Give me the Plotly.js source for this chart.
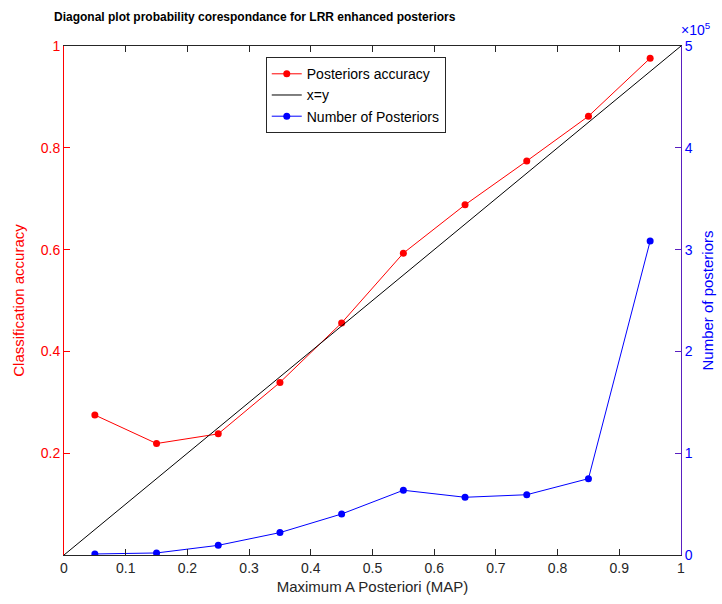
<!DOCTYPE html>
<html><head><meta charset="utf-8">
<script src="https://cdn.plot.ly/plotly-3.0.1.min.js"></script>
<style>html,body{margin:0;padding:0;background:#fff}</style>
</head><body>
<div id="chart" style="width:722px;height:604px"></div>
<script>
const mapBins = [0.05,0.15,0.25,0.35,0.45,0.55,0.65,0.75,0.85,0.95];
const accuracy = [0.275,0.219,0.238,0.339,0.456,0.593,0.688,0.774,0.862,0.976];
const numPosteriors = [1000,2000,9500,22000,40300,63600,56700,59200,75000,308400];
const diagX = [0,1];
const diagY = [0,1];
const xTicks = [0,0.1,0.2,0.3,0.4,0.5,0.6,0.7,0.8,0.9,1];
const xTickLabels = ['0','0.1','0.2','0.3','0.4','0.5','0.6','0.7','0.8','0.9','1'];
const leftTicks = [0.2,0.4,0.6,0.8,1];
const leftTickLabels = ['0.2','0.4','0.6','0.8','1'];
const rightTicks = [0,100000,200000,300000,400000,500000];
const rightTickLabels = ['0','1','2','3','4','5'];

const traces = [
  {x: mapBins, y: accuracy, name: 'Posteriors accuracy', mode: 'lines+markers',
   line: {color: '#ff0000', width: 1}, marker: {color: '#ff0000', size: 7}},
  {x: diagX, y: diagY, name: 'x=y', mode: 'lines', line: {color: '#000000', width: 1}},
  {x: mapBins, y: numPosteriors, name: 'Number of Posteriors', mode: 'lines+markers', yaxis: 'y2',
   line: {color: '#0000ff', width: 1}, marker: {color: '#0000ff', size: 7}}
];

const layout = {
  width: 722, height: 604,
  margin: {l: 64, r: 41, t: 46, b: 49},
  paper_bgcolor: '#fff', plot_bgcolor: '#fff',
  font: {family: 'Liberation Sans, Arial, sans-serif', size: 14, color: '#262626'},
  showlegend: true,
  legend: {x: 0.327, y: 0.978, xanchor: 'left', yanchor: 'top', bordercolor: '#262626', borderwidth: 1,
    bgcolor: '#fff', font: {size: 14, color: '#000'}, tracegroupgap: 0, itemwidth: 30},
  xaxis: {range: [0,1], tickvals: xTicks, ticktext: xTickLabels, ticks: 'inside', ticklen: 6,
    tickcolor: '#262626', showline: true, linecolor: '#262626', linewidth: 1, mirror: 'ticks',
    showgrid: false, zeroline: false, tickfont: {size: 14, color: '#262626'},
    title: {text: 'Maximum A Posteriori (MAP)', font: {size: 15, color: '#262626'}, standoff: 6}},
  yaxis: {range: [0,1], tickvals: leftTicks, ticktext: leftTickLabels, ticks: 'inside', ticklen: 6,
    tickcolor: '#ff0000', showline: true, linecolor: '#ff0000', linewidth: 1,
    showgrid: false, zeroline: false, tickfont: {size: 14, color: '#ff0000'},
    title: {text: 'Classification accuracy', font: {size: 15, color: '#ff0000'}, standoff: 12}},
  yaxis2: {range: [0,500000], overlaying: 'y', side: 'right', tickvals: rightTicks, ticktext: rightTickLabels,
    ticks: 'inside', ticklen: 6, tickcolor: '#5a1fc0', showline: true, linecolor: '#5a1fc0', linewidth: 1,
    showgrid: false, zeroline: false, tickfont: {size: 14, color: '#0000ff'},
    title: {text: 'Number of posteriors', font: {size: 15, color: '#0000ff'}, standoff: 10}},
  annotations: [
    {text: '<b>Diagonal plot probability corespondance for LRR enhanced posteriors</b>', xref: 'paper', yref: 'paper',
     x: -0.019, y: 1.0, xshift: 0, yshift: 29, xanchor: 'left', yanchor: 'middle', showarrow: false,
     font: {size: 12, color: '#000'}},
    {text: '×10<sup>5</sup>', xref: 'paper', yref: 'paper', x: 1, y: 1, xanchor: 'left', yanchor: 'bottom',
     xshift: -2, yshift: 6, showarrow: false, font: {size: 14, color: '#0000ff'}}
  ]
};
Plotly.newPlot('chart', traces, layout, {displayModeBar: false});
</script>
</body></html>
